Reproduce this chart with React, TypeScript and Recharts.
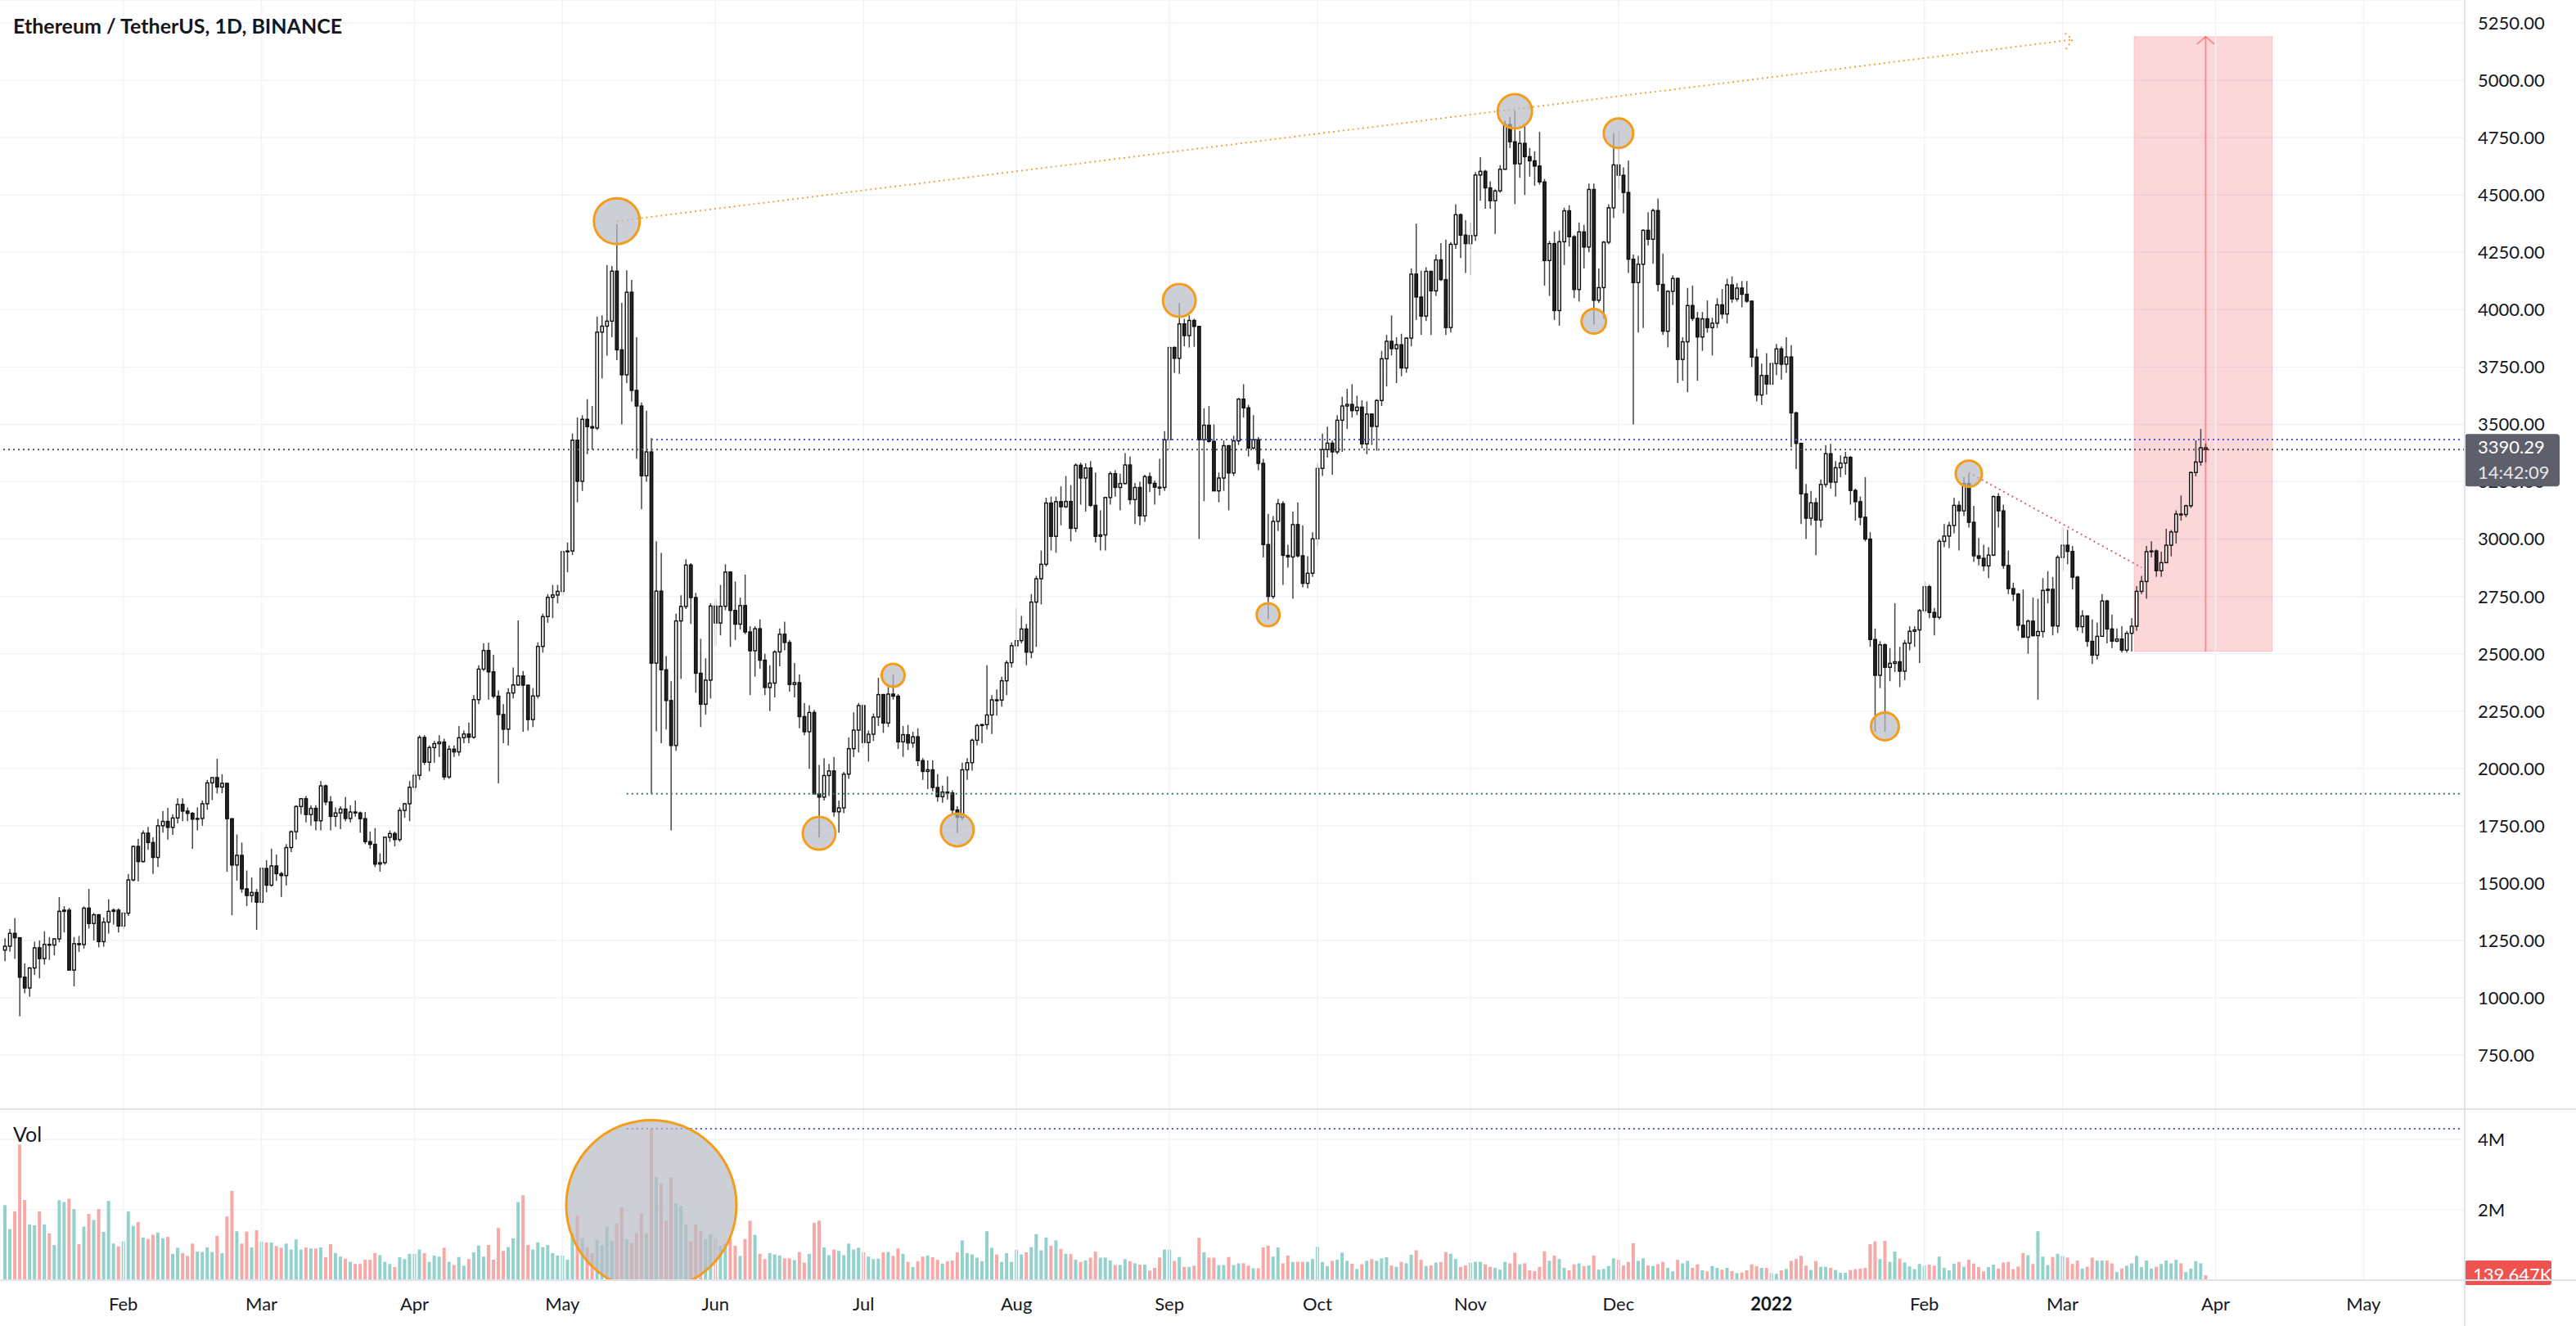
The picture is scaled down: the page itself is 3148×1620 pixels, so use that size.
import React from 'react';
import { ComposedChart, Bar, Cell, XAxis, YAxis, CartesianGrid, ReferenceLine, ReferenceDot, ReferenceArea } from 'recharts';

const FONT = 'Lato, "Liberation Sans", sans-serif';
const W = 3148;
const AXIS_W = 136;
const PRICE_H = 1355;
const VOL_H = 265;

// ETH/USDT daily, 2021-01-08 .. 2022-03-30 (open = previous close)
const firstOpen = 1208;
const closes = [
  1225,1281,1262,1090,1043,1130,1218,1171,1233,1230,1257,1377,1382,1121,1236,1232,1391,1324,1362,1245,1330,1377,1382,1313,
  1369,1514,1660,1594,1718,1677,1612,1750,1769,1743,1784,1843,1814,1804,1779,1782,1846,1937,1960,1919,1935,1781,1579,1621,1475,1446,1459,1417,
  1564,1491,1575,1541,1533,1655,1724,1834,1868,1799,1826,1772,1924,1854,1791,1806,1823,1782,1810,1806,1781,1681,1669,1583,1589,1700,1716,1690,1817,1846,1918,
  1970,2135,2027,2091,2108,2115,1963,2084,2072,2134,2150,2136,2300,2433,2514,2421,2315,2235,2171,2329,2364,2403,2363,2213,2316,2532,2662,2746,2756,2772,
  2945,2948,3431,3252,3522,3490,3484,3902,3928,3950,4168,3825,3716,4076,3648,3580,3276,3380,2459,2773,2430,2296,2100,2643,2706,2887,2745,2415,2280,2385,2708,
  2634,2707,2856,2689,2629,2710,2595,2513,2609,2472,2353,2372,2508,2585,2549,2366,2374,2226,2160,2244,1889,1875,1969,1989,1811,1828,1975,2086,2167,2274,
  2113,2149,2224,2322,2198,2324,2315,2116,2147,2111,2138,2034,1987,1994,1917,1877,1897,1893,1819,1787,1994,2025,2123,2187,2191,2233,2299,2298,2382,2461,2535,
  2557,2608,2507,2725,2827,2890,3157,3012,3163,3141,3164,3047,3322,3266,3310,3147,3012,3018,3181,3285,3225,3242,3323,3172,3225,3101,3272,3243,3226,3225,3433,
  3835,3788,3938,3887,3953,3927,3433,3496,3426,3210,3266,3407,3288,3428,3610,3572,3397,3433,3330,2976,2750,3077,3154,2929,2922,3063,2927,2807,2851,3001,
  3308,3390,3418,3380,3518,3580,3587,3560,3575,3415,3545,3491,3604,3786,3862,3830,3847,3746,3876,4155,4055,3972,4167,4082,4217,4131,3922,4285,4414,4325,4288,
  4323,4587,4603,4531,4475,4518,4612,4807,4732,4636,4725,4667,4649,4626,4557,4214,4288,3996,4296,4431,4318,4088,4339,4273,4524,4041,4096,4294,4444,4631,
  4586,4511,4220,4118,4198,4346,4307,4432,4110,3906,4080,4136,3783,3860,4018,3962,3881,3960,3922,3941,4021,3981,4108,4047,4094,4067,4037,3793,3628,3713,3676,
  3765,3829,3762,3794,3550,3417,3197,3091,3158,3083,3238,3372,3248,3311,3331,3356,3212,3163,3095,3000,2562,2406,2539,2441,2458,2465,2424,2546,2598,2604,2688,
  2792,2680,2659,2990,3013,3059,3147,3123,3242,3073,2927,2916,2883,2930,3185,3123,2885,2784,2760,2624,2572,2642,2579,2597,2776,2781,2621,2920,
  2973,2946,2834,2618,2665,2554,2494,2576,2730,2608,2555,2564,2516,2589,2620,2772,2815,2945,2948,2862,2897,2973,3031,3109,3107,3145,3290,3336,3398,3390.29,
];
const highs = [
  1260,1300,1347,1264,1150,1134,1245,1250,1290,1265,1260,1439,1400,1392,1265,1270,1398,1475,1370,1365,1350,1430,1390,1390,
  1375,1540,1663,1693,1730,1745,1700,1780,1815,1828,1800,1870,1870,1830,1810,1830,1860,1950,1960,2042,1975,1937,1782,1712,1677,1555,1525,1475,
  1570,1600,1650,1625,1550,1670,1730,1840,1870,1880,1840,1840,1945,1930,1880,1830,1835,1875,1840,1860,1812,1810,1725,1740,1630,1700,1730,1725,1830,1850,1945,
  1990,2145,2145,2100,2120,2145,2130,2100,2100,2185,2165,2200,2320,2450,2545,2548,2495,2340,2280,2350,2440,2645,2425,2365,2350,2550,2675,2760,2800,2800,
  2950,2985,3460,3530,3540,3610,3580,3970,3975,4195,4190,4372,4030,4172,4130,3880,3595,3560,3440,2990,2940,2490,2380,2675,2755,2912,2895,2765,2565,2480,2720,
  2740,2800,2890,2860,2815,2745,2845,2620,2620,2650,2500,2450,2515,2610,2640,2560,2460,2410,2285,2275,2255,2015,2045,2020,2050,1860,1985,2135,2245,2285,
  2280,2165,2240,2395,2325,2355,2410,2325,2185,2190,2160,2175,2045,2035,2035,1975,1925,1965,1905,1835,2025,2045,2130,2195,2195,2450,2320,2345,2400,2470,2550,
  2700,2665,2630,2760,2840,2950,3180,3185,3185,3230,3275,3235,3330,3333,3330,3340,3290,3125,3185,3295,3300,3285,3375,3360,3245,3250,3280,3290,3255,3350,3470,
  3840,3840,4030,3960,3975,3960,3930,3570,3580,3500,3290,3430,3410,3450,3615,3675,3585,3540,3445,3350,3110,3100,3175,3165,2975,3120,3160,3060,2925,3030,
  3330,3460,3490,3430,3540,3620,3655,3675,3625,3605,3600,3545,3610,3820,3890,3975,3880,3895,3880,4180,4375,4170,4185,4170,4240,4290,4305,4295,4460,4420,4390,
  4380,4600,4665,4610,4560,4525,4630,4825,4840,4868,4780,4810,4705,4690,4775,4570,4300,4340,4345,4445,4455,4325,4380,4370,4550,4550,4180,4300,4460,4770,
  4778,4620,4650,4240,4235,4350,4425,4440,4485,4245,4085,4150,4140,3880,4095,4105,3990,3990,4040,3965,4050,4090,4135,4145,4115,4125,4125,4040,3830,3765,3810,
  3770,3850,3840,3880,3845,3555,3420,3240,3210,3180,3260,3410,3415,3340,3365,3380,3362,3220,3185,3270,3030,2610,2555,2545,2525,2720,2530,2560,2620,2620,2695,
  2815,2800,2700,3000,3065,3075,3180,3165,3270,3285,3145,3005,2975,2965,3190,3200,3150,2950,2810,2765,2780,2650,2745,2740,2830,2860,2835,2930,
  3050,3040,2970,2840,2690,2665,2650,2635,2760,2735,2670,2610,2620,2600,2655,2795,2840,2970,2990,2955,2945,3045,3040,3125,3190,3150,3295,3430,3480,3416,
];
const lows = [
  1160,1201,1170,920,1020,1005,1100,1085,1145,1165,1185,1242,1285,1120,1050,1200,1215,1302,1250,1220,1223,1280,1320,1285,
  1300,1357,1508,1508,1590,1645,1540,1570,1720,1690,1710,1760,1770,1770,1650,1730,1750,1820,1862,1891,1892,1550,1360,1511,1458,1400,1416,1296,
  1410,1460,1485,1510,1440,1490,1635,1690,1800,1765,1750,1730,1730,1840,1730,1745,1735,1770,1765,1790,1720,1670,1650,1570,1550,1580,1680,1660,1680,1785,1770,
  1900,1950,2015,1987,2025,2050,1950,1955,2050,2055,2110,2110,2130,2280,2425,2300,2305,1935,2110,2100,2305,2360,2160,2165,2180,2305,2505,2635,2655,2720,
  2755,2855,2930,3160,3210,3370,3390,3475,3700,3800,3880,3780,3500,3680,3600,3350,3130,3250,1890,2162,2110,2170,1730,2077,2390,2695,2630,2330,2180,2235,2305,
  2535,2580,2690,2530,2560,2605,2585,2320,2400,2435,2320,2250,2310,2445,2515,2335,2310,2175,2145,1998,1885,1700,1860,1880,1790,1720,1805,1955,2050,2070,
  2090,2030,2120,2185,2155,2180,2300,2085,2050,2080,2090,2010,1950,1910,1900,1855,1850,1865,1800,1718,1775,1950,1990,2100,2110,2170,2150,2230,2270,2320,2440,
  2510,2545,2450,2480,2530,2715,2880,2950,2940,3060,3135,2990,3030,3150,3120,3140,2985,2950,2950,3150,3185,3125,3238,3150,3065,3060,3075,3205,3150,3190,3210,
  3390,3725,3720,3840,3835,3838,3000,3165,3420,3210,3160,3210,3125,3275,3410,3530,3360,3390,3300,2920,2650,2740,3035,2800,2875,2740,2920,2790,2785,2835,
  2970,3275,3355,3280,3370,3380,3480,3530,3540,3395,3370,3410,3385,3580,3665,3800,3680,3710,3725,3840,3955,3890,3950,3890,4060,4125,3890,3900,4265,4225,4160,
  4150,4300,4475,4440,4440,4330,4510,4610,4705,4460,4575,4500,4580,4540,4545,4105,4060,3955,3930,4195,4275,4050,4035,4180,4250,3935,4030,3960,4285,4400,
  4525,4420,4160,3500,3900,3920,4280,4200,4080,3890,3835,4020,3680,3690,3640,3950,3690,3820,3900,3800,3920,3960,3940,4030,4035,4010,4030,3750,3600,3585,3630,
  3675,3715,3695,3725,3400,3305,3065,3000,3060,2930,3050,3225,3220,3185,3270,3280,3150,3080,3060,2990,2530,2160,2350,2160,2380,2420,2355,2385,2515,2530,2460,
  2675,2655,2580,2650,2965,2960,3025,2950,3100,3050,2900,2885,2860,2830,2925,3050,2870,2760,2730,2600,2570,2500,2575,2300,2570,2720,2580,2590,
  2860,2890,2780,2600,2590,2530,2455,2475,2575,2545,2525,2550,2505,2505,2510,2600,2760,2740,2920,2835,2835,2895,2925,2980,3080,3095,3135,3273,3320,3334,
];
// volume, millions of ETH
const volumes = [
  2.13,1.45,1.95,3.85,2.28,1.58,1.56,1.95,1.58,1.33,1.00,2.27,2.22,2.31,2.02,1.02,1.52,1.88,1.71,2.02,1.37,2.25,1.04,0.96,
  1.10,1.95,1.54,1.65,1.21,1.17,1.29,1.35,1.19,1.23,0.75,0.92,0.77,0.69,1.04,0.81,0.80,0.93,0.80,1.26,0.77,1.81,2.54,1.39,1.04,1.38,0.93,1.42,
  1.10,1.07,1.07,0.97,0.92,1.04,0.87,1.16,0.87,0.93,0.90,0.90,0.93,0.65,1.02,0.77,0.67,0.61,0.52,0.46,0.46,0.58,0.58,0.77,0.71,0.52,0.46,0.37,0.65,0.60,0.75,
  0.75,0.87,0.77,0.52,0.70,0.67,0.92,0.52,0.43,0.66,0.41,0.60,0.79,0.98,0.67,1.00,0.58,1.48,0.83,0.94,1.19,2.22,2.41,1.00,0.87,1.07,0.94,1.00,0.77,0.70,
  0.70,0.58,1.33,1.84,1.19,0.94,0.77,1.13,1.00,1.52,1.11,1.61,2.07,1.16,1.06,1.34,1.90,1.33,4.30,2.93,2.73,1.69,2.92,2.18,2.11,1.58,1.10,1.58,1.39,1.17,1.31,
  1.19,0.98,1.03,1.19,0.98,0.69,1.17,1.69,1.29,0.75,0.60,0.77,0.73,0.70,0.62,0.62,0.57,0.80,0.50,0.75,1.63,1.69,0.93,0.71,0.87,0.83,0.71,1.04,0.87,0.92,
  0.79,0.67,0.60,0.61,0.79,0.80,0.69,0.90,0.75,0.52,0.37,0.54,0.67,0.70,0.65,0.58,0.47,0.54,0.56,0.79,1.13,0.77,0.73,0.64,0.54,1.39,0.92,0.73,0.52,0.77,0.52,
  0.87,0.73,0.79,0.94,1.31,0.85,1.21,0.98,1.13,0.89,0.75,0.74,0.58,0.52,0.56,0.64,0.81,0.64,0.64,0.56,0.43,0.43,0.60,0.54,0.48,0.44,0.44,0.27,0.35,0.64,0.87,
  0.87,0.54,0.66,0.38,0.38,0.41,1.20,0.79,0.64,0.64,0.43,0.43,0.66,0.43,0.48,0.48,0.41,0.34,0.34,0.93,0.98,0.67,0.93,0.48,0.70,0.52,0.52,0.52,0.52,0.60,
  0.95,0.52,0.40,0.55,0.58,0.78,0.55,0.47,0.32,0.45,0.55,0.60,0.55,0.62,0.65,0.42,0.38,0.52,0.48,0.72,0.85,0.58,0.40,0.42,0.50,0.52,0.80,0.75,0.60,0.38,0.42,
  0.50,0.52,0.52,0.45,0.38,0.35,0.30,0.52,0.48,0.78,0.45,0.48,0.28,0.26,0.38,0.82,0.55,0.70,0.60,0.35,0.28,0.45,0.48,0.40,0.42,0.70,0.30,0.32,0.40,0.62,
  0.58,0.42,0.52,1.05,0.55,0.62,0.42,0.40,0.45,0.52,0.35,0.25,0.58,0.48,0.55,0.35,0.45,0.28,0.25,0.40,0.35,0.30,0.35,0.26,0.20,0.22,0.28,0.45,0.40,0.35,0.35,
  0.20,0.18,0.28,0.32,0.55,0.60,0.69,0.41,0.29,0.54,0.38,0.38,0.35,0.29,0.21,0.21,0.29,0.31,0.33,0.35,1.02,1.10,0.60,1.12,0.52,0.81,0.61,0.50,0.39,0.31,0.46,
  0.41,0.44,0.41,0.67,0.35,0.28,0.47,0.52,0.38,0.58,0.47,0.37,0.25,0.37,0.44,0.33,0.50,0.52,0.31,0.39,0.77,0.71,0.46,1.39,0.67,0.43,0.66,0.75,
  0.69,0.64,0.46,0.56,0.33,0.38,0.64,0.56,0.56,0.56,0.48,0.23,0.33,0.41,0.48,0.69,0.37,0.56,0.33,0.38,0.46,0.56,0.48,0.58,0.48,0.23,0.33,0.54,0.48,0.139647,
];

const monthTicks = ['2021-02-01','2021-03-01','2021-04-01','2021-05-01','2021-06-01','2021-07-01','2021-08-01','2021-09-01','2021-10-01','2021-11-01','2021-12-01','2022-01-01','2022-02-01','2022-03-01','2022-04-01','2022-05-01'];
const monthLabels = ['Feb','Mar','Apr','May','Jun','Jul','Aug','Sep','Oct','Nov','Dec','2022','Feb','Mar','Apr','May'];
const priceTicks = [750,1000,1250,1500,1750,2000,2250,2500,2750,3000,3250,3500,3750,4000,4250,4500,4750,5000,5250];
const volTicks = [2, 4];
const PRICE_DOMAIN = [514.9, 5350];

// highlighted swing points (circles drawn on the chart)
const markers = [
  { date: '2021-05-12', price: 4386, r: 28 },
  { date: '2021-06-22', price: 1717, r: 20 },
  { date: '2021-07-07', price: 2406, r: 14 },
  { date: '2021-07-20', price: 1732, r: 20 },
  { date: '2021-09-03', price: 4040, r: 20 },
  { date: '2021-09-21', price: 2670, r: 14 },
  { date: '2021-11-10', price: 4865, r: 21 },
  { date: '2021-12-01', price: 4769, r: 18 },
  { date: '2021-11-26', price: 3949, r: 15 },
  { date: '2022-01-24', price: 2183, r: 17 },
  { date: '2022-02-10', price: 3285, r: 16 },
];

// time scale: every day incl. the empty area right of the last bar
const dates: string[] = [];
for (let i = 0; i < 499; i++) dates.push(new Date(Date.UTC(2021, 0, 8 + i)).toISOString().slice(0, 10));
const lastDate = dates[dates.length - 1];

const rows = dates.map((date, i) => {
  if (i >= closes.length) return { date };
  const open = i === 0 ? firstOpen : closes[i - 1];
  return { date, open, high: highs[i], low: lows[i], close: closes[i], volume: volumes[i] };
});
const lastClose = closes[closes.length - 1];
const lastVol = volumes[volumes.length - 1];

const UP_VOL = '#93d2cc';
const DOWN_VOL = '#f7a9a7';
const GRID = '#f0f3fa';
const SEP = '#e0e3eb';

const Candle = (p: any) => {
  const d = p.payload;
  if (!d || d.close == null || !isFinite(p.y) || !isFinite(p.height)) return null;
  const cx = p.x + p.width / 2;
  const span = d.high - d.low;
  const k = span > 0 ? p.height / span : 0;
  const yO = p.y + (d.high - d.open) * k;
  const yC = p.y + (d.high - d.close) * k;
  const up = d.close >= d.open;
  const top = Math.min(yO, yC);
  const h = Math.max(Math.abs(yC - yO), 1);
  return (
    <g>
      <line x1={cx} x2={cx} y1={p.y} y2={p.y + p.height} stroke="#444444" strokeWidth={1.5} />
      <rect x={cx - 1.7} y={top} width={3.4} height={h} fill={up ? '#ffffff' : '#262626'} stroke="#0d0d0d" strokeWidth={1.4} />
    </g>
  );
};

const ArrowLine = (p: any) => {
  const { x1, y1, x2, y2 } = p;
  const a = Math.atan2(y2 - y1, x2 - x1);
  const L = 14, s = 0.85;
  const ax = x2 - L * Math.cos(a - s), ay = y2 - L * Math.sin(a - s);
  const bx = x2 - L * Math.cos(a + s), by = y2 - L * Math.sin(a + s);
  return (
    <g>
      <line x1={x1} y1={y1} x2={x2} y2={y2} stroke={p.stroke} strokeWidth={p.strokeWidth} strokeDasharray={p.strokeDasharray} strokeOpacity={p.strokeOpacity} />
      <polyline points={`${ax},${ay} ${x2},${y2} ${bx},${by}`} fill="none" stroke={p.stroke} strokeWidth={p.strokeWidth} strokeDasharray={p.strokeDasharray} strokeOpacity={p.strokeOpacity} />
    </g>
  );
};

const PriceTick = ({ x, y, payload }: any) => (
  <text x={x + 8} y={y} dy="0.36em" fontSize={22} fill="#131722" fontFamily={FONT}>{Number(payload.value).toFixed(2)}</text>
);

const VolTick = ({ x, y, payload }: any) => (
  <text x={x + 8} y={y} dy="0.36em" fontSize={22} fill="#131722" fontFamily={FONT}>{payload.value}M</text>
);

const MonthTick = ({ x, y, payload }: any) => {
  const label = monthLabels[monthTicks.indexOf(payload.value)];
  return (
    <text x={x} y={y + 21} dy="0.36em" textAnchor="middle" fontSize={22} fontWeight={label === '2022' ? 700 : 400} fill="#131722" fontFamily={FONT}>{label}</text>
  );
};

const PriceTag = ({ viewBox }: any) => {
  const x = viewBox.x + viewBox.width;
  const y = viewBox.y;
  return (
    <g>
      <rect x={x} y={y - 19} width={116} height={64} rx={4} fill="#5d606b" />
      <text x={x + 16} y={y - 3} dy="0.36em" fontSize={22} fill="#ffffff" fontFamily={FONT}>{lastClose.toFixed(2)}</text>
      <text x={x + 16} y={y + 28} dy="0.36em" fontSize={22} fill="#e6e7ea" fontFamily={FONT}>14:42:09</text>
    </g>
  );
};

const VolTag = ({ viewBox }: any) => {
  const x = viewBox.x + viewBox.width;
  const y = viewBox.y;
  return (
    <g>
      <rect x={x} y={y - 18} width={106} height={30} rx={3} fill="#ef5350" />
      <text x={x + 10} y={y - 1} dy="0.36em" fontSize={22} fill="#ffffff" fontFamily={FONT}>{(lastVol * 1000).toFixed(3)}K</text>
    </g>
  );
};

export default function App() {
  return (
    <div style={{ position: 'absolute', left: 0, top: 0, width: W, height: 1620, background: '#ffffff', overflow: 'hidden', fontFamily: FONT }}>
      <div style={{ position: 'absolute', left: 0, top: 0 }}>
        <ComposedChart width={W} height={PRICE_H} data={rows} margin={{ top: 0, right: 0, bottom: 0, left: 0 }}>
          <CartesianGrid vertical={false} stroke={GRID} strokeWidth={1.5} />
          <XAxis dataKey="date" hide padding={{ left: 3, right: 0 }} />
          <YAxis orientation="right" width={AXIS_W} type="number" domain={PRICE_DOMAIN} ticks={priceTicks} allowDataOverflow axisLine={false} tickLine={false} tick={<PriceTick />} />
          {monthTicks.map((m) => (
            <ReferenceLine key={m} x={m} stroke={GRID} strokeWidth={1.5} />
          ))}
          <ReferenceArea x1="2022-03-16" x2="2022-04-12" y1={2510} y2={5190} fill="#f23645" fillOpacity={0.2} stroke="#f23645" strokeOpacity={0.2} />
          <ReferenceLine segment={[{ x: '2022-03-30', y: 2510 }, { x: '2022-03-30', y: 5190 }]} stroke="#f23645" strokeOpacity={0.45} strokeWidth={2} shape={ArrowLine} />
          <ReferenceLine segment={[{ x: '2021-05-14', y: 1890 }, { x: lastDate, y: 1890 }]} stroke="#2e7d72" strokeWidth={2} strokeDasharray="2 4" />
          <ReferenceLine segment={[{ x: '2021-05-19', y: 3434 }, { x: lastDate, y: 3434 }]} stroke="#4a5bd4" strokeWidth={2} strokeDasharray="2 4" />
          <Bar dataKey={(d: any) => (d.close == null ? undefined : [d.low, d.high])} shape={Candle} isAnimationActive={false} />
          <ReferenceLine y={lastClose} stroke="#555555" strokeWidth={2} strokeDasharray="2 4" />
          <ReferenceLine segment={[{ x: '2021-05-12', y: 4386 }, { x: '2022-03-03', y: 5177 }]} stroke="#f5a340" strokeWidth={2} strokeDasharray="2 4" shape={ArrowLine} />
          <ReferenceLine segment={[{ x: '2022-02-10', y: 3290 }, { x: '2022-03-17', y: 2876 }]} stroke="#e0606e" strokeWidth={2} strokeDasharray="2 4" />
          {markers.map((m) => (
            <ReferenceDot key={m.date} x={m.date} y={m.price} r={m.r} fill="#b6bac3" fillOpacity={0.7} stroke="#f59c1a" strokeWidth={3} />
          ))}
        </ComposedChart>
      </div>
      {/* last-price tag, drawn on its own layer so it sits above the axis labels */}
      <div style={{ position: 'absolute', left: 0, top: 0 }}>
        <ComposedChart width={W} height={PRICE_H} data={rows} margin={{ top: 0, right: AXIS_W, bottom: 0, left: 0 }}>
          <XAxis dataKey="date" hide padding={{ left: 3, right: 0 }} />
          <YAxis hide type="number" domain={PRICE_DOMAIN} allowDataOverflow />
          <ReferenceLine y={lastClose} stroke="none" label={<PriceTag />} />
        </ComposedChart>
      </div>
      <div style={{ position: 'absolute', left: 0, top: PRICE_H }}>
        <ComposedChart width={W} height={VOL_H} data={rows} margin={{ top: 0, right: 0, bottom: 0, left: 0 }}>
          <CartesianGrid vertical={false} stroke={GRID} strokeWidth={1.5} />
          <XAxis dataKey="date" ticks={monthTicks} interval={0} height={56} padding={{ left: 3, right: 0 }} axisLine={false} tickLine={false} tick={<MonthTick />} />
          <YAxis orientation="right" width={AXIS_W} type="number" domain={[0, 4.86]} ticks={volTicks} allowDataOverflow axisLine={false} tickLine={false} tick={<VolTick />} />
          {monthTicks.map((m) => (
            <ReferenceLine key={m} x={m} stroke={GRID} strokeWidth={1.5} />
          ))}
          <Bar dataKey="volume" barSize={4} isAnimationActive={false}>
            {rows.map((r: any) => (
              <Cell key={r.date} fill={r.close != null && r.close >= r.open ? UP_VOL : DOWN_VOL} />
            ))}
          </Bar>
          <ReferenceLine segment={[{ x: '2021-05-14', y: 4.3 }, { x: lastDate, y: 4.3 }]} stroke="#4a5bd4" strokeWidth={2} strokeDasharray="2 4" />
          <ReferenceDot x="2021-05-19" y={2.13} r={104} ifOverflow="hidden" fill="#b6bac3" fillOpacity={0.7} stroke="#f59c1a" strokeWidth={3} />
          <ReferenceLine y={lastVol} stroke="none" label={<VolTag />} />
        </ComposedChart>
      </div>
      <div style={{ position: 'absolute', left: 16, top: 16, fontSize: 25, fontWeight: 700, color: '#131722', whiteSpace: 'nowrap' }}>Ethereum / TetherUS, 1D, BINANCE</div>
      <div style={{ position: 'absolute', left: 16, top: 1370, fontSize: 25, color: '#131722' }}>Vol</div>
      <div style={{ position: 'absolute', left: 0, top: PRICE_H - 1, width: W, height: 2, background: SEP }} />
      <div style={{ position: 'absolute', left: 0, top: 1563, width: W, height: 2, background: SEP }} />
      <div style={{ position: 'absolute', left: W - AXIS_W - 1, top: 0, width: 2, height: 1620, background: SEP }} />
    </div>
  );
}
